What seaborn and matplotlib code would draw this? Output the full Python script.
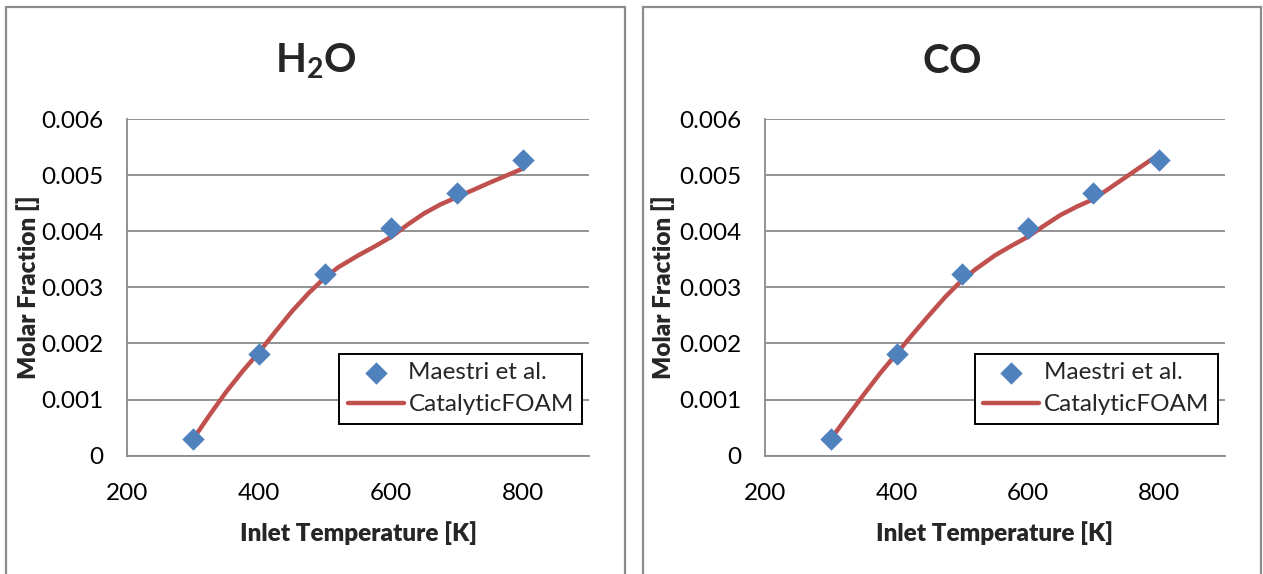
import matplotlib
matplotlib.use("Agg")
import matplotlib.pyplot as plt
from matplotlib.patches import Rectangle
import pandas as pd
import seaborn as sns

# Measured molar fractions (Maestri et al.)
exp_temp = [300, 400, 500, 600, 700, 800]
exp_h2o = [0.00029, 0.00181, 0.00324, 0.00406, 0.00468, 0.00527]
exp_co = [0.00029, 0.00181, 0.00324, 0.00406, 0.00468, 0.00527]

# CatalyticFOAM simulation results
sim_temp = [300, 325, 350, 375, 400, 425, 450, 475, 500, 520, 550, 575,
            600, 625, 650, 675, 700, 750, 800]
sim_h2o = [0.00030, 0.00073, 0.00114, 0.00151, 0.00185, 0.00222, 0.00258,
           0.00290, 0.00318, 0.00336, 0.00357, 0.00373, 0.00390, 0.00412,
           0.00432, 0.00448, 0.00461, 0.00487, 0.00512]
sim_co = [0.00030, 0.00070, 0.00109, 0.00147, 0.00182, 0.00217, 0.00251,
          0.00284, 0.00313, 0.00332, 0.00357, 0.00374, 0.00390, 0.00410,
          0.00429, 0.00444, 0.00457, 0.00497, 0.00537]

y_ticks = [0, 0.001, 0.002, 0.003, 0.004, 0.005, 0.006]
y_tick_labels = ["0", "0.001", "0.002", "0.003", "0.004", "0.005", "0.006"]
x_ticks = [200, 400, 600, 800]
x_tick_labels = ["200", "400", "600", "800"]

titles = [r"$\mathbf{H_2O}$", r"$\mathbf{CO}$"]
series_names = ["Maestri et al.", "CatalyticFOAM"]

sns.set_theme(style="white")
plt.rcParams["font.family"] = ["Lato", "DejaVu Sans"]
plt.rcParams["mathtext.fontset"] = "custom"
plt.rcParams["mathtext.bf"] = "Lato:bold"
plt.rcParams["mathtext.rm"] = "Lato"

W, H = 1263, 574
fig = plt.figure(figsize=(W / 100, H / 100), dpi=100)
fig.patch.set_facecolor("white")

GRID = "#8a8a8a"
BLUE = "#4F81BD"
RED = "#C0504D"
FS = 17.5

panels = [
    dict(ax_left=127.3, ax_right=589.3, frame=(6, 625), ylab_x=40,
         exp=exp_h2o, sim=sim_h2o, title=titles[0]),
    dict(ax_left=765.4, ax_right=1224.6, frame=(643, 1261), ylab_x=675,
         exp=exp_co, sim=sim_co, title=titles[1]),
]
ax_top, ax_bottom = 119.0, 455.7

for p in panels:
    # chart-area frame
    x0, x1 = p["frame"]
    fig.add_artist(Rectangle((x0 / W, -0.05), (x1 - x0) / W, 1.05 - 7 / H,
                             transform=fig.transFigure, fill=False,
                             ec="#8c8c8c", lw=1.6, zorder=0))

    ax = fig.add_axes([p["ax_left"] / W, 1 - ax_bottom / H,
                       (p["ax_right"] - p["ax_left"]) / W,
                       (ax_bottom - ax_top) / H])
    ax.set_facecolor("none")

    sim_df = pd.DataFrame({"T": sim_temp, "x": p["sim"]})
    exp_df = pd.DataFrame({"T": exp_temp, "x": p["exp"]})
    sns.lineplot(data=sim_df, x="T", y="x", ax=ax, color=RED, lw=3.2,
                 label=series_names[1], zorder=3, sort=False)
    sns.scatterplot(data=exp_df, x="T", y="x", ax=ax, color=BLUE, marker="D",
                    s=130, linewidth=0, label=series_names[0], zorder=4)

    ax.set_xlim(200, 900)
    ax.set_ylim(0, 0.006)
    ax.set_xticks(x_ticks)
    ax.set_xticklabels(x_tick_labels)
    ax.set_yticks(y_ticks)
    ax.set_yticklabels(y_tick_labels)
    ax.yaxis.grid(True, color=GRID, lw=1.3)
    ax.xaxis.grid(False)
    ax.set_axisbelow(True)
    for side in ["top", "right"]:
        ax.spines[side].set_visible(False)
    ax.spines["left"].set_color(GRID)
    ax.spines["left"].set_linewidth(1.3)
    ax.spines["bottom"].set_color(GRID)
    ax.spines["bottom"].set_linewidth(1.3)
    ax.tick_params(axis="both", length=0, labelsize=FS, colors="black")
    ax.tick_params(axis="y", pad=17)
    ax.tick_params(axis="x", pad=20)

    ax.set_xlabel("Inlet Temperature [K]", fontsize=FS, fontweight="heavy",
                  labelpad=12)
    ax.set_ylabel("Molar Fraction []", fontsize=FS, fontweight="heavy")
    width_px = p["ax_right"] - p["ax_left"]
    ax.yaxis.set_label_coords((p["ylab_x"] - p["ax_left"]) / width_px, 0.5)

    fig.text((x0 + x1) / 2 / W, 1 - 73 / H, p["title"], fontsize=29,
             ha="center", va="baseline")

    handles, labels = ax.get_legend_handles_labels()
    order = [labels.index(series_names[0]), labels.index(series_names[1])]
    leg = ax.legend([handles[i] for i in order], [labels[i] for i in order],
                    loc="lower right", bbox_to_anchor=(0.985, 0.095),
                    fontsize=FS, frameon=True, fancybox=False,
                    handlelength=2.3, handletextpad=0.2, borderpad=0.35,
                    labelspacing=0.45, borderaxespad=0)
    leg.get_frame().set_edgecolor("black")
    leg.get_frame().set_linewidth(1.4)
    leg.get_frame().set_alpha(1)

fig.savefig("out.png", dpi=100, facecolor="white")
